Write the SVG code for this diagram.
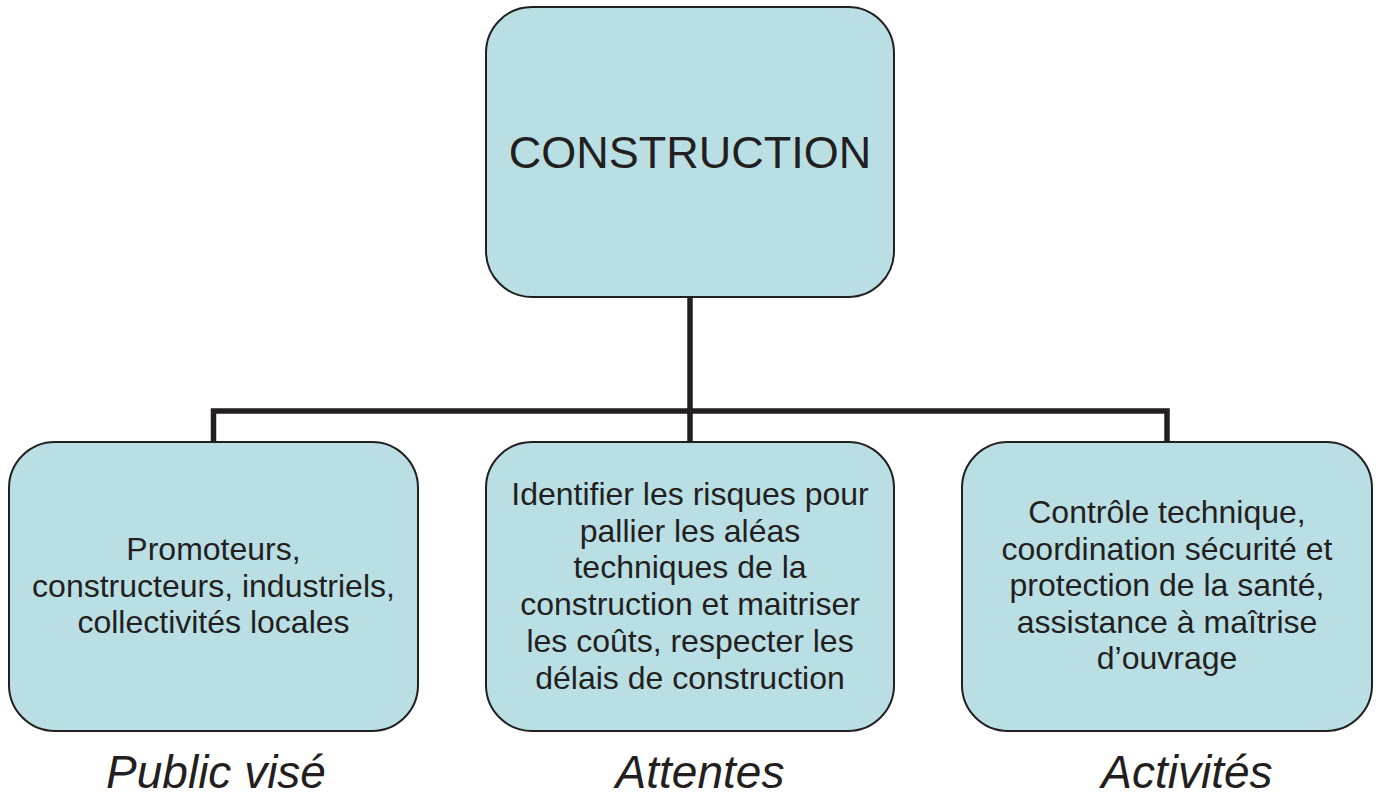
<svg xmlns="http://www.w3.org/2000/svg" width="1380" height="799" viewBox="0 0 1380 799">
<style>
.box{fill:#B9DFE5;stroke:#231F20;stroke-width:2}
.conn{fill:none;stroke:#231F20;stroke-width:5.5;stroke-linejoin:miter}
.t{font-family:"Liberation Sans",Arial,sans-serif;fill:#231F20;text-anchor:middle}
.body{font-size:32px}
.title{font-size:45px}
.cap{font-size:46px;font-style:italic}
</style>
<rect width="1380" height="799" fill="#ffffff"/>
<g id="connectors">
<path class="conn" d="M690 297 V441"/>
<path class="conn" d="M213.5 441 V411 H1167 V441"/>
</g>
<g id="node-construction">
<rect class="box" x="486" y="7" width="408" height="290" rx="46" ry="46"/>
<text class="t title" x="690" y="168">CONSTRUCTION</text>
</g>
<g id="node-public">
<rect class="box" x="9" y="442" width="409" height="289" rx="46" ry="46"/>
<text class="t body" x="213.5"><tspan x="213.5" y="560">Promoteurs,</tspan><tspan x="213.5" y="596.5">constructeurs, industriels,</tspan><tspan x="213.5" y="633">collectivités locales</tspan></text>
</g>
<g id="node-attentes">
<rect class="box" x="486" y="442" width="408" height="289" rx="46" ry="46"/>
<text class="t body" x="690"><tspan x="690" y="505">Identifier les risques pour</tspan><tspan x="690" y="541.7">pallier les aléas</tspan><tspan x="690" y="578.4">techniques de la</tspan><tspan x="690" y="615.1">construction et maitriser</tspan><tspan x="690" y="651.8">les coûts, respecter les</tspan><tspan x="690" y="688.5">délais de construction</tspan></text>
</g>
<g id="node-activites">
<rect class="box" x="962" y="442" width="410" height="289" rx="46" ry="46"/>
<text class="t body" x="1167"><tspan x="1167" y="523">Contrôle technique,</tspan><tspan x="1167" y="559.5">coordination sécurité et</tspan><tspan x="1167" y="596">protection de la santé,</tspan><tspan x="1167" y="632.5">assistance à maîtrise</tspan><tspan x="1167" y="669">d’ouvrage</tspan></text>
</g>
<g id="labels">
<text class="t cap" x="216" y="788">Public visé</text>
<text class="t cap" x="700" y="788">Attentes</text>
<text class="t cap" x="1187" y="788">Activités</text>
</g>
</svg>
